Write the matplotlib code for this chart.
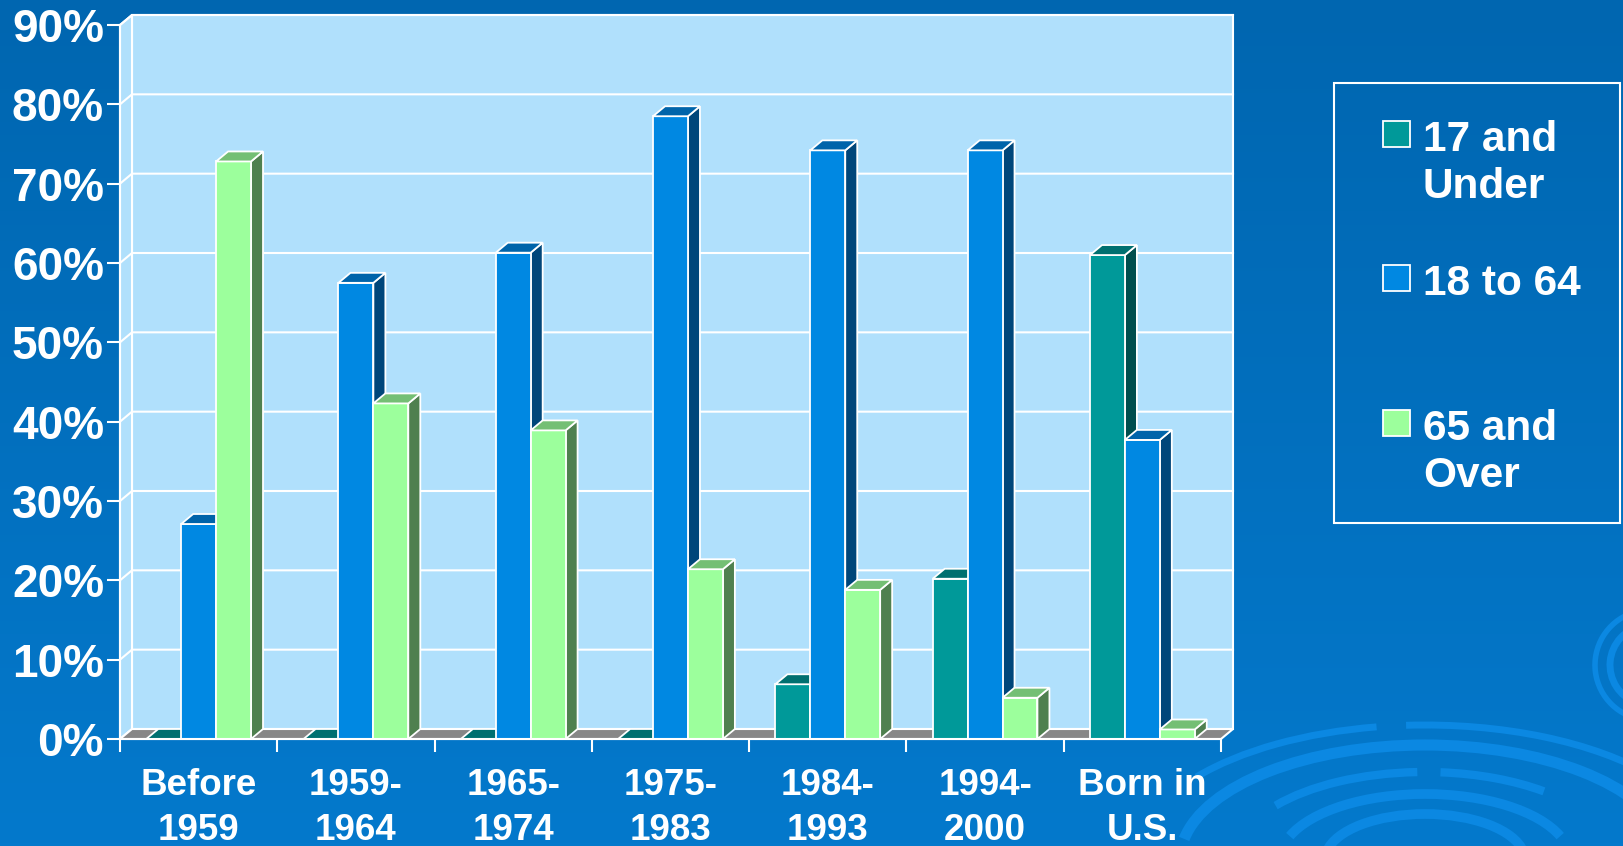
import numpy as np
import matplotlib.pyplot as plt
from matplotlib.patches import Polygon, Rectangle, Arc

plt.rcParams['font.family'] = ['Liberation Sans', 'DejaVu Sans']
plt.rcParams['font.weight'] = 'bold'

# data
periods = ['Before\n1959', '1959-\n1964', '1965-\n1974', '1975-\n1983',
           '1984-\n1993', '1994-\n2000', 'Born in\nU.S.']
age_17_under = [0, 0, 0, 0, 6.9, 20.2, 61.0]
age_18_64 = [27.1, 57.5, 61.3, 78.5, 74.2, 74.2, 37.7]
age_65_over = [72.8, 42.3, 38.9, 21.4, 18.8, 5.2, 1.2]
series_names = ['17 and\nUnder', '18 to 64', '65 and\nOver']
y_ticks = [0, 10, 20, 30, 40, 50, 60, 70, 80, 90]

# colours (front, side, top)
colors = [('#009999', '#004E4E', '#007070'),
          ('#0088E2', '#00467A', '#0064AA'),
          ('#9CFF9C', '#4F804F', '#74BF74')]

W, H = 1624, 846
fig = plt.figure(figsize=(W / 100, H / 100), dpi=100)

# slide background
bg = fig.add_axes([0, 0, 1, 1], zorder=0)
grad = np.linspace(0, 1, 256)[:, None]
top_c = np.array([0x00, 0x66, 0xB0]) / 255
bot_c = np.array([0x04, 0x79, 0xCC]) / 255
img = top_c[None, None, :] * (1 - grad[:, :, None]) + bot_c[None, None, :] * grad[:, :, None]
bg.imshow(img, extent=[0, W, H, 0], aspect='auto')
bg.set_xlim(0, W)
bg.set_ylim(H, 0)
bg.axis('off')

# swirl decoration
ring_col = '#0B88E2'
for a, b, lw, t1, t2 in [(290, 135, 5, 200, 250), (290, 135, 5, 262, 340),
                         (245, 115, 8, 185, 355), (190, 88, 6, 200, 265),
                         (190, 88, 6, 280, 330), (145, 66, 7, 190, 350),
                         (100, 46, 7, 185, 355)]:
    bg.add_patch(Arc((1425, 860), 2 * a, 2 * b, theta1=t1, theta2=t2,
                     color=ring_col, lw=lw))
for r, lw, t1, t2 in [(55, 4, 95, 250), (40, 5, 110, 260)]:
    bg.add_patch(Arc((1650, 665), 2 * r, 2 * r, theta1=t1, theta2=t2,
                     color=ring_col, lw=lw))

# chart area
ax = fig.add_axes([120 / W, 107 / H, 1101 / W, 714 / H], zorder=1)
ax.patch.set_visible(False)
ax.set_xlim(-0.5, 6.5)
ax.set_ylim(0, 90)

ddx = 12 / (1101 / 7)   # depth offset in x units
ddy = 10 / (714 / 90)   # depth offset in y units
wall = '#B0E0FC'
edge = 'white'

ax.add_patch(Polygon([(-0.5 + ddx, ddy), (6.5 + ddx, ddy), (6.5 + ddx, 90 + ddy),
                      (-0.5 + ddx, 90 + ddy)], closed=True, facecolor=wall,
                     edgecolor=edge, lw=1.5, clip_on=False, zorder=1))
ax.add_patch(Polygon([(-0.5, 0), (-0.5 + ddx, ddy), (-0.5 + ddx, 90 + ddy), (-0.5, 90)],
                     closed=True, facecolor=wall, edgecolor=edge, lw=1.5,
                     clip_on=False, zorder=1))
for v in y_ticks[1:]:
    ax.plot([-0.5, -0.5 + ddx, 6.5 + ddx], [v, v + ddy, v + ddy], color=edge,
            lw=1.5, clip_on=False, zorder=2)
ax.add_patch(Polygon([(-0.5, 0), (6.5, 0), (6.5 + ddx, ddy), (-0.5 + ddx, ddy)],
                     closed=True, facecolor='#878787', edgecolor=edge, lw=1.5,
                     clip_on=False, zorder=3))

# 3d bars
bw = 0.222
series = [age_17_under, age_18_64, age_65_over]
z = 4
for i in range(len(periods)):
    for s, vals in enumerate(series):
        h = vals[i]
        x0 = i + (s - 1) * bw - bw / 2
        x1 = x0 + bw
        front, side, top = colors[s]
        if h > 0:
            ax.add_patch(Polygon([(x1, 0), (x1 + ddx, ddy), (x1 + ddx, h + ddy), (x1, h)],
                                 closed=True, facecolor=side, edgecolor=edge, lw=1.3,
                                 clip_on=False, zorder=z))
            ax.add_patch(Polygon([(x0, 0), (x1, 0), (x1, h), (x0, h)], closed=True,
                                 facecolor=front, edgecolor=edge, lw=1.3,
                                 clip_on=False, zorder=z + 1))
        ax.add_patch(Polygon([(x0, h), (x1, h), (x1 + ddx, h + ddy), (x0 + ddx, h + ddy)],
                             closed=True, facecolor=top, edgecolor=edge, lw=1.3,
                             clip_on=False, zorder=z + 2))
        z += 3

# axes
for sp in ['top', 'right']:
    ax.spines[sp].set_visible(False)
for sp in ['left', 'bottom']:
    ax.spines[sp].set_color('white')
    ax.spines[sp].set_linewidth(1.5)
    ax.spines[sp].set_zorder(100)

ax.set_yticks(y_ticks, labels=[f'{v}%' for v in y_ticks])
ax.tick_params(axis='y', length=9.5, width=1.5, color='white', labelcolor='white',
               labelsize=33, pad=2)
ax.set_xticks(np.arange(-0.5, 7, 1), labels=[''] * 8)
ax.tick_params(axis='x', which='major', length=9.5, width=1.5, color='white')
ax.set_xticks(np.arange(len(periods)), labels=periods, minor=True)
ax.tick_params(axis='x', which='minor', length=0, labelcolor='white',
               labelsize=26.5, pad=21)
for lab in ax.get_xticklabels(minor=True):
    lab.set_linespacing(1.36)

# legend
fig.add_artist(Rectangle((1334 / W, 1 - 523 / H), 286 / W, 440 / H,
                         transform=fig.transFigure, fill=False, edgecolor='white', lw=1.5))
leg_top = [121, 265, 410]
for s, name in enumerate(series_names):
    y_top = leg_top[s]
    fig.add_artist(Rectangle((1383 / W, 1 - (y_top + 26) / H), 27 / W, 26 / H,
                             transform=fig.transFigure, facecolor=colors[s][0],
                             edgecolor='white', lw=1.3))
    fig.text(1423 / W, 1 - (y_top - 1) / H, name, color='white', fontsize=30.5,
             va='top', ha='left', linespacing=1.24)

fig.savefig('out.png', dpi=100)
